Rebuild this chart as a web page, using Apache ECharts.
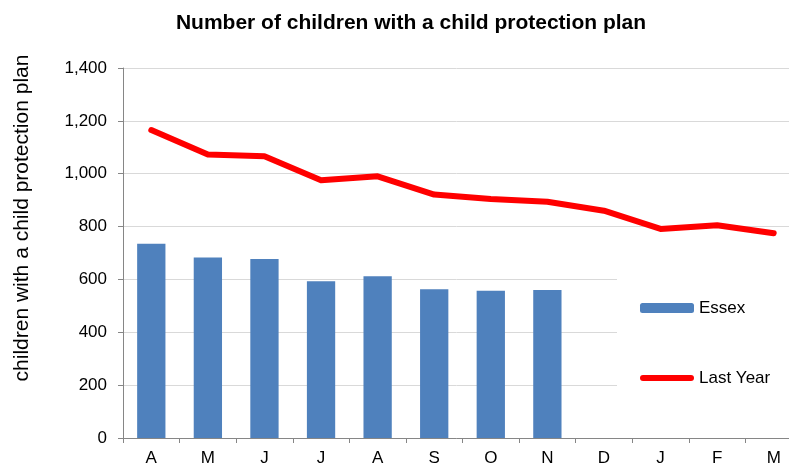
<!DOCTYPE html>
<html>
<head>
<meta charset="utf-8">
<script src="https://cdn.jsdelivr.net/npm/echarts@6/dist/echarts.min.js"></script>
<style>
  html, body { margin: 0; padding: 0; background: #fff; }
  #chart { width: 789px; height: 466px; }
</style>
</head>
<body>
<div id="chart"></div>
<script>
// months April..March
const months = ["A", "M", "J", "J", "A", "S", "O", "N", "D", "J", "F", "M"];
const essex = [735, 683, 677, 593, 612, 563, 557, 560, null, null, null, null];
const lastYear = [1165, 1073, 1066, 975, 990, 921, 904, 894, 860, 791, 805, 775];

const chart = echarts.init(document.getElementById("chart"));
const font = "Liberation Sans, Arial, sans-serif";

chart.setOption({
  animation: false,
  title: {
    text: "Number of children with a child protection plan",
    left: 406,
    textAlign: "center",
    top: 8,
    textStyle: { fontFamily: font, fontSize: 21, fontWeight: "bold", color: "#000" }
  },
  graphic: [{
    type: "text",
    x: 22,
    y: 218,
    rotation: Math.PI / 2,
    style: {
      text: "children with a child protection plan",
      font: "21px " + font,
      fill: "#000",
      align: "center",
      verticalAlign: "middle"
    }
  }],
  // plot runs a little past the right edge of the picture
  grid: { left: 123, width: 679, top: 68, bottom: 28, outerBoundsMode: "none" },
  legend: {
    orient: "vertical",
    left: 617,
    top: 269,
    padding: [30, 30, 30, 23],
    backgroundColor: "#fff",
    itemGap: 52,
    itemWidth: 54,
    itemHeight: 10,
    textStyle: { fontFamily: font, fontSize: 17, lineHeight: 18, color: "#000" },
    data: [
      { name: "Essex" },
      {
        name: "Last Year",
        icon: "path://M3,0 L51,0 A3,3 0 0 1 51,6 L3,6 A3,3 0 0 1 3,0 Z",
        itemStyle: { color: "#ff0000" }
      }
    ]
  },
  xAxis: {
    type: "category",
    data: months,
    axisLine: { lineStyle: { color: "#868686" } },
    axisTick: { show: true, length: 5, lineStyle: { color: "#868686" } },
    axisLabel: { fontFamily: font, fontSize: 17, color: "#000", margin: 12 },
    splitLine: { show: false }
  },
  yAxis: {
    type: "value",
    min: 0,
    max: 1400,
    interval: 200,
    axisLine: { show: true, lineStyle: { color: "#868686" } },
    axisTick: { show: true, length: 5, lineStyle: { color: "#868686" } },
    axisLabel: {
      fontFamily: font, fontSize: 17, color: "#000", margin: 16,
      formatter: v => v.toLocaleString("en-US")
    },
    splitLine: { lineStyle: { color: "#d9d9d9" } }
  },
  series: [
    {
      name: "Essex",
      type: "bar",
      data: essex,
      barWidth: "50%",
      itemStyle: { color: "#4f81bd" }
    },
    {
      name: "Last Year",
      type: "line",
      data: lastYear,
      symbol: "none",
      lineStyle: { color: "#ff0000", width: 6, cap: "round", join: "round" },
      itemStyle: { color: "#ff0000" }
    }
  ]
});
</script>
</body>
</html>
